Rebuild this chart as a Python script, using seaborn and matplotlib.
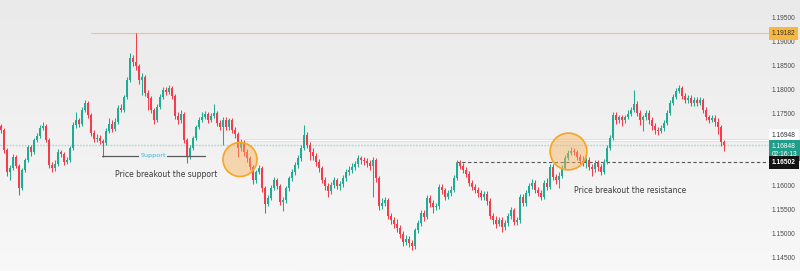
import numpy as np
import pandas as pd
import matplotlib
matplotlib.use("Agg")
import matplotlib.pyplot as plt
import matplotlib.transforms as mtransforms
import seaborn as sns

# ---------------- data (EUR/USD style candles) ----------------
closes = [
    1.1717, 1.1675, 1.1629, 1.1638, 1.1660, 1.1642, 1.1596, 1.1633, 1.1654, 1.1681,
    1.1671, 1.1696, 1.1704, 1.1721, 1.1725, 1.1696, 1.1644, 1.1638, 1.1646, 1.1671,
    1.1667, 1.1650, 1.1654, 1.1679, 1.1727, 1.1738, 1.1729, 1.1758, 1.1773, 1.1748,
    1.1710, 1.1698, 1.1700, 1.1694, 1.1690, 1.1715, 1.1729, 1.1719, 1.1733, 1.1763,
    1.1758, 1.1785, 1.1821, 1.1867, 1.1858, 1.1850, 1.1821, 1.1827, 1.1794, 1.1783,
    1.1758, 1.1738, 1.1765, 1.1785, 1.1800, 1.1796, 1.1804, 1.1788, 1.1746, 1.1738,
    1.1750, 1.1696, 1.1663, 1.1679, 1.1700, 1.1723, 1.1738, 1.1744, 1.1750, 1.1738,
    1.1746, 1.1752, 1.1731, 1.1723, 1.1738, 1.1723, 1.1738, 1.1717, 1.1708, 1.1679,
    1.1692, 1.1671, 1.1658, 1.1640, 1.1613, 1.1629, 1.1638, 1.1596, 1.1563, 1.1575,
    1.1596, 1.1613, 1.1600, 1.1567, 1.1571, 1.1596, 1.1617, 1.1629, 1.1644, 1.1658,
    1.1679, 1.1706, 1.1685, 1.1671, 1.1663, 1.1650, 1.1638, 1.1613, 1.1600, 1.1590,
    1.1602, 1.1613, 1.1600, 1.1604, 1.1617, 1.1629, 1.1633, 1.1640, 1.1646, 1.1658,
    1.1654, 1.1652, 1.1648, 1.1642, 1.1654, 1.1617, 1.1558, 1.1565, 1.1571, 1.1538,
    1.1529, 1.1521, 1.1513, 1.1500, 1.1483, 1.1490, 1.1481, 1.1475, 1.1508, 1.1523,
    1.1544, 1.1535, 1.1575, 1.1565, 1.1556, 1.1558, 1.1598, 1.1592, 1.1577, 1.1585,
    1.1592, 1.1617, 1.1648, 1.1642, 1.1633, 1.1625, 1.1606, 1.1598, 1.1592, 1.1585,
    1.1577, 1.1583, 1.1569, 1.1538, 1.1529, 1.1521, 1.1529, 1.1515, 1.1523, 1.1538,
    1.1550, 1.1525, 1.1529, 1.1577, 1.1565, 1.1585, 1.1600, 1.1606, 1.1592, 1.1585,
    1.1577, 1.1606, 1.1598, 1.1640, 1.1619, 1.1613, 1.1621, 1.1638, 1.1658, 1.1669,
    1.1673, 1.1671, 1.1660, 1.1652, 1.1650, 1.1654, 1.1640, 1.1635, 1.1648, 1.1640,
    1.1629, 1.1650, 1.1679, 1.1700, 1.1748, 1.1738, 1.1744, 1.1738, 1.1744, 1.1750,
    1.1758, 1.1771, 1.1752, 1.1738, 1.1744, 1.1752, 1.1738, 1.1725, 1.1717, 1.1715,
    1.1721, 1.1731, 1.1752, 1.1773, 1.1785, 1.1798, 1.1804, 1.1788, 1.1779, 1.1783,
    1.1773, 1.1779, 1.1773, 1.1779, 1.1758, 1.1744, 1.1738, 1.1742, 1.1733, 1.1723,
    1.1692, 1.1685,
]
highs = [
    1.1729, 1.1721, 1.1679, 1.1644, 1.1667, 1.1665, 1.1646, 1.1638, 1.1658, 1.1685,
    1.1685, 1.1700, 1.1710, 1.1727, 1.1733, 1.1729, 1.1700, 1.1650, 1.1654, 1.1677,
    1.1675, 1.1671, 1.1660, 1.1683, 1.1733, 1.1754, 1.1742, 1.1765, 1.1779, 1.1777,
    1.1752, 1.1717, 1.1708, 1.1706, 1.1698, 1.1721, 1.1742, 1.1738, 1.1742, 1.1769,
    1.1771, 1.1790, 1.1827, 1.1877, 1.1873, 1.1918, 1.1854, 1.1835, 1.1831, 1.1800,
    1.1788, 1.1763, 1.1771, 1.1792, 1.1806, 1.1806, 1.1810, 1.1808, 1.1792, 1.1754,
    1.1758, 1.1754, 1.1700, 1.1685, 1.1704, 1.1727, 1.1744, 1.1754, 1.1756, 1.1754,
    1.1752, 1.1771, 1.1756, 1.1738, 1.1744, 1.1744, 1.1742, 1.1742, 1.1723, 1.1713,
    1.1698, 1.1696, 1.1677, 1.1663, 1.1644, 1.1633, 1.1644, 1.1642, 1.1600, 1.1581,
    1.1602, 1.1619, 1.1617, 1.1604, 1.1577, 1.1600, 1.1621, 1.1635, 1.1650, 1.1665,
    1.1685, 1.1727, 1.1713, 1.1692, 1.1679, 1.1669, 1.1656, 1.1642, 1.1619, 1.1606,
    1.1608, 1.1619, 1.1617, 1.1610, 1.1623, 1.1635, 1.1642, 1.1648, 1.1652, 1.1665,
    1.1663, 1.1660, 1.1658, 1.1654, 1.1660, 1.1658, 1.1621, 1.1575, 1.1577, 1.1575,
    1.1544, 1.1535, 1.1531, 1.1519, 1.1506, 1.1498, 1.1496, 1.1488, 1.1513, 1.1529,
    1.1550, 1.1550, 1.1581, 1.1581, 1.1571, 1.1565, 1.1604, 1.1604, 1.1596, 1.1592,
    1.1600, 1.1623, 1.1654, 1.1654, 1.1648, 1.1640, 1.1631, 1.1613, 1.1604, 1.1598,
    1.1592, 1.1590, 1.1590, 1.1575, 1.1544, 1.1538, 1.1535, 1.1535, 1.1529, 1.1544,
    1.1556, 1.1554, 1.1535, 1.1583, 1.1583, 1.1592, 1.1606, 1.1615, 1.1613, 1.1598,
    1.1592, 1.1613, 1.1617, 1.1646, 1.1646, 1.1625, 1.1629, 1.1644, 1.1665, 1.1675,
    1.1681, 1.1679, 1.1675, 1.1667, 1.1663, 1.1660, 1.1660, 1.1646, 1.1654, 1.1654,
    1.1646, 1.1656, 1.1685, 1.1706, 1.1754, 1.1754, 1.1748, 1.1748, 1.1748, 1.1758,
    1.1765, 1.1800, 1.1777, 1.1758, 1.1748, 1.1758, 1.1758, 1.1744, 1.1731, 1.1723,
    1.1727, 1.1738, 1.1758, 1.1779, 1.1792, 1.1804, 1.1810, 1.1808, 1.1794, 1.1790,
    1.1790, 1.1785, 1.1785, 1.1785, 1.1783, 1.1765, 1.1748, 1.1748, 1.1748, 1.1742,
    1.1727, 1.1696,
]
lows = [
    1.1710, 1.1669, 1.1621, 1.1613, 1.1633, 1.1638, 1.1581, 1.1592, 1.1629, 1.1650,
    1.1663, 1.1667, 1.1692, 1.1700, 1.1717, 1.1692, 1.1638, 1.1629, 1.1631, 1.1642,
    1.1660, 1.1644, 1.1646, 1.1650, 1.1675, 1.1721, 1.1723, 1.1725, 1.1754, 1.1742,
    1.1704, 1.1692, 1.1692, 1.1688, 1.1660, 1.1685, 1.1710, 1.1713, 1.1715, 1.1729,
    1.1754, 1.1754, 1.1781, 1.1817, 1.1850, 1.1842, 1.1813, 1.1790, 1.1788, 1.1758,
    1.1752, 1.1729, 1.1733, 1.1760, 1.1781, 1.1790, 1.1792, 1.1781, 1.1740, 1.1729,
    1.1731, 1.1690, 1.1648, 1.1656, 1.1675, 1.1696, 1.1719, 1.1733, 1.1740, 1.1731,
    1.1733, 1.1742, 1.1725, 1.1717, 1.1685, 1.1717, 1.1717, 1.1710, 1.1700, 1.1660,
    1.1673, 1.1663, 1.1650, 1.1633, 1.1604, 1.1606, 1.1625, 1.1588, 1.1544, 1.1558,
    1.1571, 1.1592, 1.1594, 1.1560, 1.1548, 1.1565, 1.1590, 1.1610, 1.1623, 1.1638,
    1.1652, 1.1675, 1.1679, 1.1654, 1.1654, 1.1642, 1.1629, 1.1606, 1.1592, 1.1577,
    1.1583, 1.1596, 1.1594, 1.1592, 1.1598, 1.1610, 1.1623, 1.1627, 1.1633, 1.1640,
    1.1646, 1.1644, 1.1640, 1.1633, 1.1577, 1.1608, 1.1550, 1.1552, 1.1558, 1.1531,
    1.1521, 1.1513, 1.1504, 1.1492, 1.1475, 1.1477, 1.1473, 1.1467, 1.1469, 1.1502,
    1.1517, 1.1527, 1.1531, 1.1556, 1.1544, 1.1550, 1.1552, 1.1583, 1.1571, 1.1573,
    1.1579, 1.1588, 1.1613, 1.1635, 1.1627, 1.1619, 1.1600, 1.1592, 1.1585, 1.1577,
    1.1571, 1.1571, 1.1560, 1.1531, 1.1521, 1.1513, 1.1517, 1.1504, 1.1508, 1.1517,
    1.1531, 1.1519, 1.1519, 1.1523, 1.1558, 1.1558, 1.1579, 1.1594, 1.1585, 1.1579,
    1.1571, 1.1573, 1.1592, 1.1594, 1.1613, 1.1604, 1.1596, 1.1617, 1.1633, 1.1654,
    1.1665, 1.1665, 1.1654, 1.1646, 1.1642, 1.1638, 1.1633, 1.1621, 1.1629, 1.1631,
    1.1623, 1.1625, 1.1646, 1.1675, 1.1696, 1.1729, 1.1731, 1.1725, 1.1731, 1.1740,
    1.1746, 1.1754, 1.1746, 1.1727, 1.1715, 1.1738, 1.1729, 1.1717, 1.1708, 1.1706,
    1.1710, 1.1715, 1.1727, 1.1748, 1.1769, 1.1781, 1.1794, 1.1781, 1.1773, 1.1773,
    1.1767, 1.1767, 1.1767, 1.1769, 1.1752, 1.1738, 1.1731, 1.1733, 1.1725, 1.1708,
    1.1683, 1.1673,
]
first_open = 1.1725
opens = [first_open] + closes[:-1]   # each candle opens at the previous close

# scale labels visible in the picture (1.17000 / 1.16500 are hidden behind price tags)
price_ticks = [1.145, 1.150, 1.155, 1.160, 1.175, 1.180, 1.185, 1.190, 1.195]
high_level = 1.19182
prev_level = 1.16948
last_price = 1.16848
countdown = "02:16:13"
resistance_level = 1.16502
support_level = 1.1663
support_label = "Support"
support_text = "Price breakout the support"
resistance_text = "Price breakout the resistance"

# ---------------- styling ----------------
sns.set_theme(style="white")
plt.rcParams["font.family"] = ["DejaVu Sans"]

UP = "#22ab94"
DOWN = "#f23d4c"

W, H, DPI = 800, 271, 100
PLOT_W = 745  # px width of candle area
fig = plt.figure(figsize=(W / DPI, H / DPI), dpi=DPI)

# background gradient
bg = fig.add_axes([0, 0, 1, 1], zorder=-10)
grad = np.linspace(0, 1, 256).reshape(-1, 1)
c_top = np.array([0xea, 0xea, 0xea]) / 255
c_bot = np.array([0xf8, 0xf8, 0xf8]) / 255
img = c_top[None, None, :] * (1 - grad[..., None]) + c_bot[None, None, :] * grad[..., None]
bg.imshow(img, aspect="auto", extent=[0, 1, 0, 1], origin="upper")
bg.set_axis_off()

ax = fig.add_axes([0, 0, PLOT_W / W, 1])
ax.set_facecolor("none")
for s in ax.spines.values():
    s.set_visible(False)

df = pd.DataFrame({"open": opens, "high": highs, "low": lows, "close": closes})
df["idx"] = np.arange(len(df))
df["up"] = df["close"] >= df["open"]
df["color"] = np.where(df["up"], UP, DOWN)
df["bottom"] = df[["open", "close"]].min(axis=1)
df["height"] = (df["close"] - df["open"]).abs().clip(lower=0.00008)

ax.vlines(df["idx"], df["low"], df["high"], colors=df["color"], lw=0.75, zorder=3)
ax.bar(df["idx"], df["height"], bottom=df["bottom"], width=0.8,
       color=df["color"], linewidth=0, zorder=4)

# axis ranges: 1 candle = 3 px
ax.set_xlim(-1 / 3, PLOT_W / 3 - 1 / 3)
ax.set_ylim(1.14229, 1.19875)
ax.set_xticks([])
ax.set_yticks(price_ticks)
ax.yaxis.tick_right()
ax.yaxis.set_major_formatter(matplotlib.ticker.FormatStrFormatter("%.5f"))
ax.tick_params(axis="y", length=0, pad=19.0, labelsize=4.8, labelcolor="#4a4a4a")
for lab in ax.get_yticklabels():
    lab.set_fontfamily("Liberation Sans")

def xfrac(px):
    return px / PLOT_W

# horizontal levels
ax.axhline(high_level, xmin=xfrac(91), xmax=xfrac(768), color="#f6c567", lw=0.8,
           clip_on=False, zorder=2)
ax.axhline(prev_level, xmin=xfrac(245), xmax=xfrac(768), color="#d6d6d6", lw=1.8,
           clip_on=False, zorder=1)
ax.axhline(prev_level, xmin=xfrac(245), xmax=xfrac(768), color="#ffffff", lw=0.9,
           clip_on=False, zorder=1)
ax.axhline(last_price, xmin=0, xmax=xfrac(768), color="#a6d9cf", lw=1.0,
           ls=(0, (1.2, 1.0)), clip_on=False, zorder=1)
ax.axhline(resistance_level, xmin=xfrac(456), xmax=xfrac(768), color="#555555",
           lw=0.8, ls=(0, (3, 2.2)), clip_on=False, zorder=2)

# support line with label
sup_x0, sup_x1 = 102 / 3 - 1 / 3, 205 / 3 - 1 / 3
ax.plot([sup_x0, sup_x1], [support_level, support_level], color="#5a5a5a", lw=0.9, zorder=5)
ax.text(153 / 3 - 1 / 3, support_level, support_label, color="#2fb6dd", fontsize=4.6,
        ha="center", va="center", zorder=6,
        bbox=dict(boxstyle="square,pad=0.25", fc="#f0f0f0", ec="none"))

# annotations
ax.text(166.5 / 3 - 1 / 3, 1.16235, support_text, color="#3a3a3a", fontsize=5.5,
        ha="center", va="center", zorder=6)
ax.text(630.5 / 3 - 1 / 3, 1.1590, resistance_text, color="#3a3a3a", fontsize=5.5,
        ha="center", va="center", zorder=6)

# breakout circles
circles = pd.DataFrame({"x": [240 / 3 - 1 / 3, 568.5 / 3 - 1 / 3],
                        "y": [1.16552, 1.16719], "s": [600, 700]})
sns.scatterplot(data=circles, x="x", y="y", s=circles["s"], ax=ax, color="#f7b25c",
                alpha=0.45, edgecolor="none", legend=False, zorder=7)
sns.scatterplot(data=circles, x="x", y="y", s=circles["s"], ax=ax, facecolor="none",
                edgecolor="#f5a623", linewidth=1.2, legend=False, zorder=8)
ax.set_xlabel("")
ax.set_ylabel("")
ax.set_xlim(-1 / 3, PLOT_W / 3 - 1 / 3)

# price tags on the scale
trans = mtransforms.blended_transform_factory(ax.transAxes, ax.transData)
tag_x = xfrac(772)

def tag(y, text, fc, tc, dy=0.0, weight="normal", fs=4.8, pad=0.42):
    ax.annotate(text, xy=(tag_x, y), xycoords=trans, xytext=(0, dy),
                textcoords="offset points", ha="left", va="center", fontsize=fs,
                color=tc, fontweight=weight, family="Liberation Sans", zorder=20,
                annotation_clip=False, linespacing=1.2,
                bbox=dict(boxstyle=f"square,pad={pad}", fc=fc, ec="none"))

tag(high_level, f"{high_level:.5f}", "#f8b73e", "#333333")
tag(prev_level, f"{prev_level:.5f}", "#ffffff", "#333333", dy=3.8)
tag(last_price, f"{last_price:.5f}\n{countdown}", "#1f9e89", "#ffffff", dy=-3.8)
tag(resistance_level, f"{resistance_level:.5f}", "#131313", "#ffffff", weight="bold",
    dy=-0.6)

fig.savefig("out.png", dpi=DPI)
